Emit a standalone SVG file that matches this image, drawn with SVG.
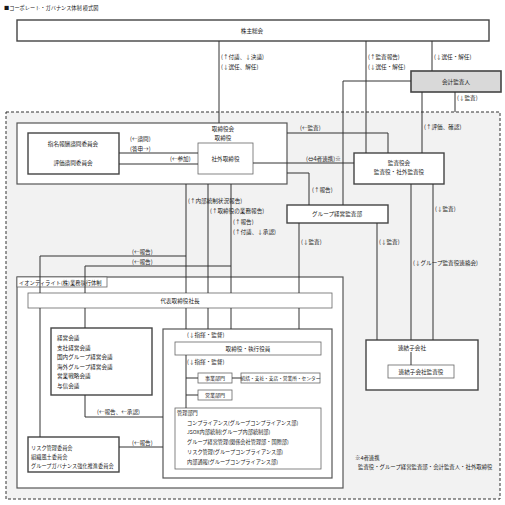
<svg xmlns="http://www.w3.org/2000/svg" width="505" height="505" viewBox="0 0 505 505">
<style>
text{font-family:"Noto Sans CJK JP","Noto Sans",sans-serif;font-size:5.6px;fill:#1a1a1a}
.c{text-anchor:middle}
.s{font-size:5px}
.bx{fill:#fff;stroke:#444;stroke-width:1.4}
.th{fill:#fff;stroke:#666;stroke-width:0.8}
.cn{fill:none;stroke:#333;stroke-width:1}
</style>
<rect width="505" height="505" fill="#fff"/>
<text x="4" y="10" style="font-size:5.2px">■コーポレート・ガバナンス体制 模式図</text>
<rect x="6" y="112" width="494" height="387" fill="#f2f2f2" stroke="#333" stroke-width="1" stroke-dasharray="3,2"/>
<g id="kabunushi"><rect class="bx" x="17" y="20" width="472" height="21"/><text class="c" x="252" y="33">株主総会</text></g>
<g id="kaikei"><rect x="411" y="71" width="90" height="21" fill="#d9d9d9" stroke="#444" stroke-width="1.6"/><text class="c" x="456" y="84">会計監査人</text></g>
<g id="torishimariyakukai"><rect x="17" y="123" width="270" height="61" fill="#fff" stroke="#555" stroke-width="1.2"/><text class="c" x="223" y="131">取締役会</text><text class="c" x="223" y="140">取締役</text></g>
<g id="shimei"><rect class="bx" x="28" y="133" width="91" height="41"/><text class="c" x="73" y="146">指名報酬諮問委員会</text><text class="c" x="73" y="165">評価諮問委員会</text></g>
<g id="shagai"><rect class="th" x="198" y="143" width="55" height="31"/><text class="c" x="225.5" y="161">社外取締役</text></g>
<g id="kansayakukai"><rect class="bx" x="354" y="153" width="90" height="31"/><text class="c" x="399" y="165">監査役会</text><text class="c" x="399" y="174">監査役・社外監査役</text></g>
<g id="groupkansa"><rect class="bx" x="287" y="205" width="101" height="18"/><text class="c" x="337" y="216">グループ経営監査部</text></g>
<g id="gyomu"><rect x="17" y="277" width="326" height="211" fill="#fff" stroke="#555" stroke-width="1.2"/><rect class="th" x="17" y="277" width="90" height="10"/><text x="19" y="284.5" style="font-size:5.3px">イオンディライト(株)業務執行体制</text></g>
<g id="daihyo"><rect class="th" x="28" y="293" width="304" height="15"/><text class="c" x="180" y="303">代表取締役社長</text></g>
<g id="keiei"><rect class="bx" x="51" y="328" width="101" height="67"/>
<text x="57" y="340">経営会議</text><text x="57" y="350">支社経営会議</text><text x="57" y="359">国内グループ経営会議</text><text x="57" y="369">海外グループ経営会議</text><text x="57" y="378">営業戦略会議</text><text x="57" y="388">与信会議</text></g>
<g id="risk"><rect class="bx" x="28" y="437" width="91" height="35"/>
<text x="31" y="450" style="font-size:5.2px">リスク管理委員会</text><text x="31" y="459" style="font-size:5.2px">組織風土委員会</text><text x="31" y="468" style="font-size:5.2px">グループガバナンス強化推進委員会</text></g>
<g id="shikko-container"><rect x="163" y="329" width="169" height="149" fill="#fff" stroke="#555" stroke-width="1.2"/></g>
<g id="torishimari-shikko"><rect class="th" x="175" y="342" width="146" height="13"/><text class="c" x="248" y="351">取締役・執行役員</text></g>
<g id="jigyo"><rect class="th" x="198" y="373" width="34" height="10"/><text class="c s" x="215" y="380">事業部門</text></g>
<g id="tokatsu"><rect class="th" x="241" y="373" width="79" height="10"/><text class="c" x="280.5" y="380" style="font-size:4.7px">統括・支社・支店・営業所・センター</text></g>
<g id="eigyo"><rect class="th" x="198" y="390" width="34" height="10"/><text class="c s" x="215" y="397">営業部門</text></g>
<g id="kanri"><rect class="th" x="175" y="408" width="146" height="61"/>
<text x="177" y="415" style="font-size:5.2px">管理部門</text>
<text x="187" y="425" style="font-size:5.2px">コンプライアンス(グループコンプライアンス部)</text>
<text x="187" y="434" style="font-size:5.2px">JSOX内部統制(グループ内部統制部)</text>
<text x="187" y="444" style="font-size:5.2px">グループ経営管理(関係会社管理部・国際部)</text>
<text x="187" y="454" style="font-size:5.2px">リスク管理(グループコンプライアンス部)</text>
<text x="187" y="464" style="font-size:5.2px">内部通報(グループコンプライアンス部)</text></g>
<g id="renketsu"><rect class="bx" x="366" y="340" width="112" height="50"/><text class="c" x="412" y="350">連結子会社</text></g>
<g id="renketsu-kansayaku"><rect class="th" x="388" y="365" width="66" height="13"/><text class="c" x="421" y="374">連結子会社監査役</text></g>
<g id="note"><text x="355" y="460" style="font-size:5.4px">※4者連携</text><text x="358" y="469" style="font-size:5.4px">監査役・グループ経営監査部・会計監査人・社外取締役</text></g>
<g id="connectors">
<path class="cn" d="M219,41V123M366,41V153M432,41V71M411,81H343V205M422,92V153M455,92V112"/>
<path class="cn" d="M119,153H198M119,164H198M287,133H388V153M253,163H354M287,173H309V205"/>
<path class="cn" d="M411,184V340M433,184V340M377,223V340M299,223V293M299,308V329"/>
<path class="cn" d="M186,184V293M186,308V329M208,184V293M208,308V329M231,184V293M231,308V329"/>
<path class="cn" d="M186,256H40V293M40,308V437M231,266H85V293M85,308V328M85,395V417H163M119,447H163"/>
<path class="cn" d="M186,355V408M186,378H198M186,395H198M232,378H241M411,352V365"/>
</g>
<g id="labels">
<text x="221" y="59">(↑付議、↓決議)</text><text x="221" y="69">(↓選任、解任)</text>
<text x="368" y="59">(↑監査報告)</text><text x="368" y="69">(↓選任・解任)</text>
<text x="434" y="59">(↓選任・解任)</text>
<text x="457" y="100">(↓監査)</text>
<text x="424" y="129">(↑評価、確認)</text>
<text x="300" y="130">(←監査)</text>
<text x="130" y="141">(←諮問)</text><text x="130" y="151">(答申→)</text><text x="170" y="161">(←参加)</text>
<text x="306" y="161">(⇔4者連携)※</text>
<text x="312" y="192">(↑報告)</text>
<text x="188" y="203">(↑内部統制状況報告)</text>
<text x="210" y="213">(↑取締役の業務報告)</text>
<text x="233" y="224">(↑報告)</text>
<text x="233" y="234">(↑付議、↓承認)</text>
<text x="301" y="244">(↓監査)</text><text x="379" y="244">(↓監査)</text>
<text x="435" y="211">(↓監査)</text>
<text x="413" y="265">(↓グループ監査役連絡会)</text>
<text x="132" y="254">(←報告)</text><text x="132" y="264">(←報告)</text>
<text x="187" y="337">(↓指揮・監督)</text><text x="187" y="364">(↓指揮・監督)</text>
<text x="97" y="414">(←報告、←承認)</text>
<text x="132" y="445">(←報告)</text>
</g>
</svg>
